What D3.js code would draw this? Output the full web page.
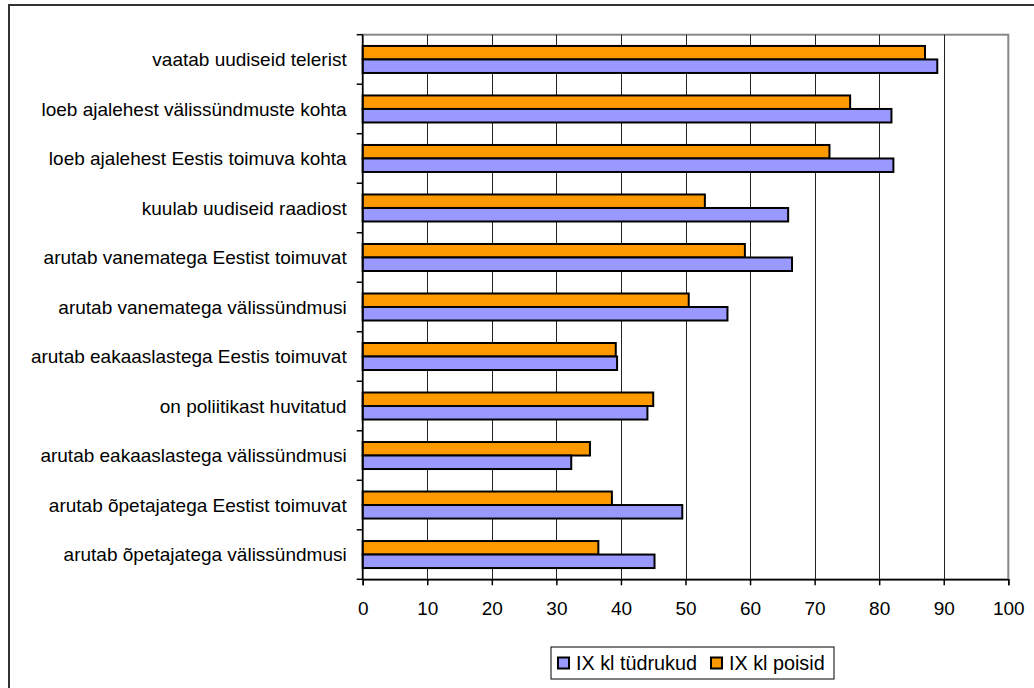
<!DOCTYPE html>
<html>
<head>
<meta charset="utf-8">
<script src="https://cdn.jsdelivr.net/npm/d3@7"></script>
<style>
  html, body { margin: 0; padding: 0; background: #fff; }
  svg { display: block; font-family: "Liberation Sans", Arial, sans-serif; }
</style>
</head>
<body>
<svg id="chart" width="1034" height="688"></svg>
<script>
const categories = [
  "vaatab uudiseid telerist",
  "loeb ajalehest välissündmuste kohta",
  "loeb ajalehest Eestis toimuva kohta",
  "kuulab uudiseid raadiost",
  "arutab vanematega Eestist toimuvat",
  "arutab vanematega välissündmusi",
  "arutab eakaaslastega Eestis toimuvat",
  "on poliitikast huvitatud",
  "arutab eakaaslastega välissündmusi",
  "arutab õpetajatega Eestist toimuvat",
  "arutab õpetajatega välissündmusi"
];
const tudrukud = [89.0, 81.9, 82.2, 65.9, 66.5, 56.5, 39.4, 44.1, 32.3, 49.5, 45.2];
const poisid   = [87.1, 75.5, 72.3, 53.0, 59.2, 50.5, 39.2, 45.0, 35.2, 38.6, 36.5];
const seriesNames = ["IX kl tüdrukud", "IX kl poisid"];
const seriesColors = ["#9999FF", "#FF9900"];
const xTicks = [0, 10, 20, 30, 40, 50, 60, 70, 80, 90, 100];

(function () {
const svg = d3.select("#chart");

// outer chart border (extends beyond right/bottom edges)
svg.append("rect")
  .attr("x", 9).attr("y", 5).attr("width", 1040).attr("height", 700)
  .attr("fill", "#fff").attr("stroke", "#333").attr("stroke-width", 2);

const pLeft = 362.7, pRight = 1008.3, pTop = 34.7, pBottom = 579.3;

const x = d3.scaleLinear().domain([0, 100]).range([pLeft, pRight]);
const y = d3.scaleBand().domain(categories).range([pTop, pBottom])
  .paddingInner(0.4545).paddingOuter(0.2273);
const ySub = d3.scaleBand().domain(["poisid", "tudrukud"]).range([0, y.bandwidth()]);

// plot area border (gray)
svg.append("rect")
  .attr("x", pLeft).attr("y", pTop).attr("width", pRight - pLeft).attr("height", pBottom - pTop)
  .attr("fill", "none").attr("stroke", "#888").attr("stroke-width", 2);

// gridlines
svg.append("g").selectAll("line")
  .data(xTicks.filter(t => t > 0 && t < 100))
  .join("line")
  .attr("x1", d => Math.round(x(d)) + 0.5).attr("x2", d => Math.round(x(d)) + 0.5)
  .attr("y1", pTop).attr("y2", pBottom)
  .attr("stroke", "#222").attr("stroke-width", 1);

// bars
const groups = svg.append("g").selectAll("g")
  .data(categories)
  .join("g")
  .attr("transform", d => `translate(0,${y(d)})`);

groups.append("rect")
  .attr("x", x(0))
  .attr("y", ySub("poisid"))
  .attr("width", (d, i) => x(poisid[i]) - x(0))
  .attr("height", ySub.bandwidth())
  .attr("fill", seriesColors[1]).attr("stroke", "#000").attr("stroke-width", 2);

groups.append("rect")
  .attr("x", x(0))
  .attr("y", ySub("tudrukud"))
  .attr("width", (d, i) => x(tudrukud[i]) - x(0))
  .attr("height", ySub.bandwidth())
  .attr("fill", seriesColors[0]).attr("stroke", "#000").attr("stroke-width", 2);

// bottom axis
const xAxis = d3.axisBottom(x).tickValues(xTicks).tickSize(6).tickPadding(16);
const gx = svg.append("g").attr("transform", `translate(0,${pBottom})`).call(xAxis);
gx.select(".domain").attr("stroke", "#000").attr("stroke-width", 1.5);
gx.selectAll(".tick line").attr("stroke", "#000").attr("stroke-width", 1.5);
gx.selectAll(".tick text").attr("font-size", 19).attr("fill", "#000")
  .attr("font-family", "'Liberation Sans', Arial, sans-serif");

// left axis: ticks at band boundaries
const yBounds = d3.range(categories.length + 1).map(i => pTop + i * (pBottom - pTop) / categories.length);
svg.append("line").attr("x1", pLeft).attr("x2", pLeft).attr("y1", pTop).attr("y2", pBottom)
  .attr("stroke", "#000").attr("stroke-width", 1.5);
svg.append("g").selectAll("line").data(yBounds).join("line")
  .attr("x1", pLeft - 6).attr("x2", pLeft).attr("y1", d => d).attr("y2", d => d)
  .attr("stroke", "#000").attr("stroke-width", 1.5);

svg.append("g").selectAll("text").data(categories).join("text")
  .attr("x", pLeft - 16)
  .attr("y", d => y(d) + y.bandwidth() / 2)
  .attr("dy", "0.35em")
  .attr("text-anchor", "end")
  .attr("font-size", 19)
  .attr("fill", "#000")
  .text(d => d);

// legend
const legend = svg.append("g");
legend.append("rect").attr("x", 551).attr("y", 647).attr("width", 283).attr("height", 32)
  .attr("fill", "#fff").attr("stroke", "#000").attr("stroke-width", 1);
const legendX = [558, 711];
const lg = legend.selectAll("g.item").data(seriesNames).join("g").attr("class", "item")
  .attr("transform", (d, i) => `translate(${legendX[i]},663)`);
lg.append("rect").attr("x", 0).attr("y", -5.5).attr("width", 11).attr("height", 11)
  .attr("fill", (d, i) => seriesColors[i]).attr("stroke", "#000").attr("stroke-width", 2);
lg.append("text").attr("x", 18).attr("dy", "0.36em").attr("font-size", 19.8).attr("fill", "#000")
  .text(d => d);
})();
</script>
</body>
</html>
